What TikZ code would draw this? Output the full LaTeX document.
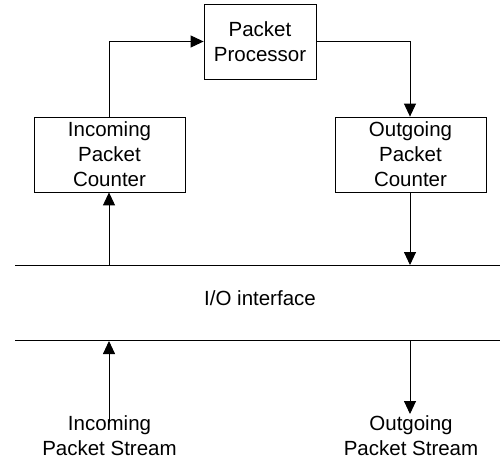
\documentclass[tikz,border=0pt]{standalone}
\usepackage{fontspec}
\setmainfont{Liberation Sans}
\usetikzlibrary{arrows.meta}
\begin{document}
\begin{tikzpicture}[x=1pt,y=-1pt,
  box/.style={draw,line width=0.8pt,minimum width=151pt,minimum height=75pt,inner sep=0pt,align=center,font=\fontsize{20.5}{25}\selectfont},
  lbl/.style={align=center,inner sep=0pt,font=\fontsize{20.5}{25}\selectfont},
  conn/.style={line width=0.9pt,-{Triangle[length=13pt,width=12pt]}},
  bar/.style={line width=0.9pt}]
\useasboundingbox (0,0) rectangle (500,460);
\node[box,minimum width=112pt] (pp) at (260,41.5) {Packet\\Processor};
\node[box] (inc) at (109.5,154.5) {Incoming\\Packet\\Counter};
\node[box] (out) at (410.5,154.5) {Outgoing\\Packet\\Counter};
\coordinate (t1) at (15,265);
\coordinate (t2) at (500,265);
\coordinate (b1) at (15,340);
\coordinate (b2) at (500,340);
\draw[bar] (t1) -- (t2);
\draw[bar] (b1) -- (b2);
\node[lbl] (io) at (260,298) {I/O interface};
\node[lbl,anchor=north] (ins) at (109.5,415) {Incoming\\Packet Stream};
\node[lbl,anchor=north] (outs) at (411,415) {Outgoing\\Packet Stream};
\coordinate (incTop) at (109,265);
\coordinate (outTop) at (410,265);
\coordinate (incB) at (109,341);
\coordinate (outB) at (410,340);
\coordinate (incTail) at (109,423);
\coordinate (outTip) at (410,414);
\draw[conn] (inc.north -| 109,0) |- (pp.west);
\draw[conn] (pp.east) -| (out.north -| 410,0);
\draw[conn] (incTop) -- (inc.south -| 109,0);
\draw[conn] (out.south -| 410,0) -- (outTop);
\draw[conn] (incTail) -- (incB);
\draw[conn] (outB) -- (outTip);
\end{tikzpicture}
\end{document}
